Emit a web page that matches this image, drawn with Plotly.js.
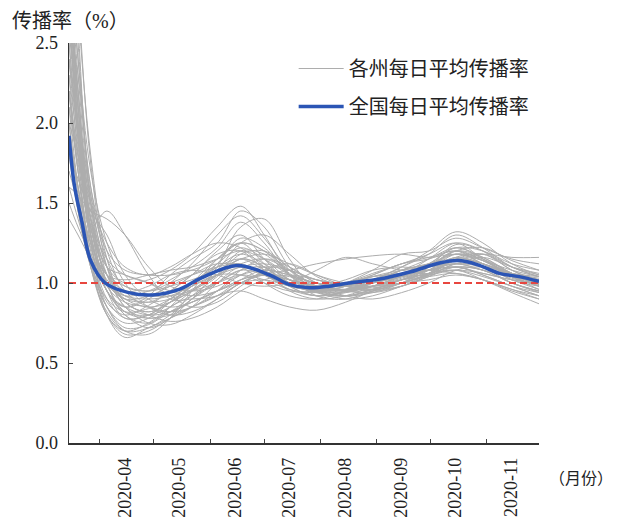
<!DOCTYPE html>
<html>
<head>
<meta charset="utf-8">
<script src="https://cdn.plot.ly/plotly-3.0.1.min.js"></script>
<style>
  html, body { margin: 0; padding: 0; background: #fff; }
  #chart { width: 617px; height: 520px; }
</style>
</head>
<body>
<div id="chart"></div>
<script>
// Sample dates shared by every state series
const stateDates = ['2020-03-15','2020-03-20','2020-03-27','2020-04-05','2020-04-15','2020-04-28',
  '2020-05-10','2020-05-22','2020-06-05','2020-06-18','2020-07-01','2020-07-15','2020-07-30',
  '2020-08-15','2020-08-30','2020-09-15','2020-09-30','2020-10-15','2020-10-30','2020-11-15','2020-11-30'];

// Daily average transmission rate per state
const stateSeries = [
  [3.2,2.1,1.35,1.05,0.92,0.88,0.95,1.05,1.20,1.30,1.15,1.00,0.95,0.98,1.02,1.05,1.10,1.18,1.12,1.02,0.98],
  [2.8,1.9,1.25,0.90,0.78,0.80,0.88,0.95,1.05,1.20,1.18,1.05,0.96,0.94,1.00,1.08,1.12,1.22,1.15,1.05,1.00],
  [2.6,2.3,1.60,1.20,0.95,0.85,0.82,0.90,1.10,1.35,1.40,1.15,0.95,0.92,0.96,1.02,1.06,1.10,1.08,1.00,0.95],
  [3.5,2.6,1.50,1.00,0.80,0.75,0.85,1.00,1.15,1.25,1.20,1.08,0.98,0.95,0.98,1.05,1.15,1.25,1.20,1.08,1.02],
  [2.0,1.6,1.25,1.05,0.98,0.95,1.00,1.05,1.10,1.12,1.05,0.98,0.96,1.00,1.04,1.06,1.08,1.12,1.08,1.04,1.00],
  [2.4,1.8,1.15,0.80,0.70,0.75,0.85,0.92,1.00,1.08,1.10,1.02,0.95,0.92,0.95,1.00,1.05,1.15,1.18,1.10,1.05],
  [1.8,1.65,1.45,1.30,1.05,0.90,0.85,0.88,0.95,1.05,1.10,1.08,1.02,0.98,0.96,1.00,1.10,1.20,1.14,1.04,0.98],
  [2.9,2.0,1.30,0.95,0.85,0.92,1.05,1.15,1.25,1.45,1.35,1.10,0.95,0.90,0.92,0.98,1.04,1.12,1.10,1.02,0.96],
  [3.0,2.4,1.70,1.25,1.00,0.85,0.80,0.82,0.90,1.00,1.05,1.04,1.00,0.98,1.02,1.10,1.18,1.30,1.22,1.10,1.04],
  [1.6,1.40,1.15,0.95,0.80,0.72,0.78,0.90,1.02,1.15,1.10,0.98,0.92,0.95,1.00,1.08,1.12,1.15,1.10,1.05,1.02],
  [2.2,1.7,1.20,0.85,0.70,0.68,0.78,0.95,1.15,1.25,1.12,0.98,0.92,0.95,0.98,1.02,1.06,1.08,1.04,0.98,0.94],
  [3.3,2.5,1.55,1.10,0.95,0.98,1.05,1.08,1.05,1.00,0.98,1.00,1.08,1.16,1.12,1.08,1.06,1.12,1.16,1.10,1.06],
  [2.5,1.95,1.40,1.10,1.00,1.02,1.08,1.18,1.35,1.48,1.30,1.05,0.92,0.90,0.95,1.00,1.05,1.14,1.12,1.05,1.00],
  [1.5,1.35,1.18,1.02,0.90,0.85,0.88,0.95,1.05,1.18,1.20,1.10,1.00,0.95,0.94,0.98,1.06,1.16,1.10,1.00,0.95],
  [2.7,2.2,1.30,0.80,0.66,0.72,0.78,0.85,1.00,1.10,1.05,0.96,0.92,0.94,0.98,1.04,1.10,1.20,1.16,1.06,0.98],
  [2.2,1.7,1.35,1.45,1.30,1.05,0.90,0.90,0.92,1.00,1.05,1.02,0.98,0.96,1.00,1.06,1.12,1.18,1.14,1.05,1.00],
  [1.9,1.45,1.10,0.85,0.72,0.74,0.82,0.88,0.95,1.00,1.02,0.98,0.95,0.96,1.00,1.04,1.08,1.10,1.05,0.98,0.92],
  [2.3,1.85,1.30,1.00,0.92,0.95,1.02,1.10,1.22,1.38,1.25,1.05,0.95,0.98,1.05,1.12,1.15,1.20,1.12,1.06,1.03],
  [2.9,2.1,1.40,1.10,1.05,1.00,0.92,0.85,0.88,0.98,1.08,1.12,1.05,0.98,0.95,0.98,1.05,1.16,1.18,1.08,1.00],
  [2.1,1.75,1.30,0.95,0.78,0.80,0.90,1.00,1.10,1.15,1.08,1.00,0.96,1.00,1.06,1.12,1.18,1.25,1.15,1.04,0.96],
  [3.4,2.7,1.80,1.15,0.88,0.82,0.88,0.98,1.12,1.28,1.22,1.06,0.97,0.95,0.98,1.03,1.08,1.14,1.10,1.03,0.99],
  [1.4,1.30,1.15,1.00,0.92,0.90,0.92,0.98,1.05,1.10,1.12,1.08,1.02,1.00,1.02,1.05,1.08,1.10,1.06,1.02,1.00],
  [2.6,1.95,1.25,0.88,0.80,0.86,0.95,1.05,1.18,1.20,1.08,0.95,0.90,0.92,0.98,1.04,1.12,1.22,1.20,1.12,1.08],
  [2.0,1.80,1.50,1.25,1.10,1.05,1.10,1.18,1.25,1.22,1.10,1.00,0.96,0.96,1.00,1.04,1.05,1.08,1.06,1.02,1.00],
  [3.0,2.2,1.45,1.00,0.82,0.78,0.80,0.85,0.92,1.02,1.08,1.05,1.00,0.98,0.97,1.00,1.06,1.15,1.12,1.04,0.98],
  [2.4,2.0,1.50,1.10,0.88,0.82,0.88,0.98,1.05,1.05,1.00,0.95,0.95,1.00,1.08,1.18,1.20,1.28,1.22,1.15,1.12],
  [1.7,1.50,1.22,0.95,0.82,0.80,0.85,0.95,1.08,1.25,1.30,1.18,1.04,0.98,0.98,1.02,1.04,1.06,1.02,0.96,0.90],
  [2.8,2.1,1.40,1.05,0.95,0.92,0.92,0.95,1.00,1.05,1.02,0.96,0.94,0.98,1.04,1.08,1.10,1.12,1.08,1.00,0.94],
  [2.5,1.90,1.35,1.00,0.90,0.88,0.90,0.96,1.05,1.12,1.15,1.08,0.98,0.92,0.90,0.94,1.00,1.08,1.10,1.06,1.04],
  [3.6,2.8,1.75,1.10,0.85,0.78,0.82,0.92,1.04,1.15,1.10,1.00,0.94,0.96,1.02,1.10,1.20,1.32,1.25,1.12,1.05],
  [1.9,1.60,1.25,1.05,1.02,1.05,1.08,1.10,1.15,1.20,1.15,1.05,0.98,0.96,0.98,1.02,1.06,1.10,1.05,0.98,0.92],
  [2.2,1.80,1.35,1.05,0.88,0.80,0.76,0.78,0.85,0.95,1.02,1.05,1.02,0.98,0.96,0.98,1.04,1.10,1.08,1.00,0.95],
  [2.7,2.0,1.30,0.95,0.85,0.90,1.00,1.12,1.30,1.42,1.28,1.08,0.96,0.92,0.94,1.00,1.08,1.18,1.15,1.06,1.02],
  [1.6,1.55,1.45,1.40,1.30,1.10,0.98,0.95,0.98,1.05,1.08,1.05,1.00,0.98,1.00,1.04,1.08,1.12,1.10,1.04,1.00],
  [2.3,1.70,1.15,0.85,0.75,0.78,0.88,0.98,1.10,1.18,1.12,1.02,0.98,1.02,1.08,1.10,1.08,1.06,1.02,0.95,0.90],
  [3.2,2.4,1.60,1.15,0.98,0.95,0.98,1.02,1.08,1.15,1.18,1.12,1.05,1.00,0.98,1.00,1.06,1.14,1.12,1.06,1.02],
  [2.0,1.55,1.10,0.82,0.70,0.72,0.80,0.90,1.00,1.08,1.05,0.98,0.96,1.00,1.04,1.06,1.10,1.20,1.22,1.14,1.08],
  [2.6,2.1,1.55,1.20,1.08,1.05,1.05,1.08,1.15,1.25,1.20,1.05,0.94,0.92,0.96,1.02,1.08,1.16,1.12,1.04,0.98],
  [2.9,2.2,1.40,0.98,0.88,0.85,0.82,0.85,0.95,1.08,1.15,1.10,1.00,0.95,0.96,1.02,1.10,1.24,1.20,1.10,1.04],
  [1.8,1.45,1.12,0.90,0.82,0.84,0.90,1.00,1.12,1.22,1.15,1.02,0.96,0.96,0.98,1.00,1.02,1.05,1.02,0.96,0.92],
  [2.1,1.6,1.10,0.80,0.68,0.70,0.78,0.85,0.92,0.95,0.90,0.85,0.83,0.88,0.95,1.00,1.05,1.08,1.02,0.94,0.87],
  [2.4,1.9,1.30,0.95,0.85,0.80,0.82,0.88,0.95,1.02,1.06,1.08,1.12,1.15,1.17,1.18,1.16,1.18,1.14,1.08,1.04],
  [2.7,2.0,1.35,1.00,0.90,0.92,0.98,1.05,1.12,1.10,1.00,0.92,0.90,0.95,1.02,1.08,1.15,1.22,1.16,1.06,1.00],
  [3.0,2.3,1.50,1.05,0.85,0.75,0.74,0.80,0.90,1.00,1.06,1.02,0.98,1.00,1.05,1.12,1.16,1.20,1.14,1.06,1.02],
  [2.2,1.8,1.40,1.15,1.05,1.00,0.95,0.92,0.95,1.02,1.05,1.02,0.98,0.98,1.02,1.06,1.10,1.14,1.18,1.16,1.16]
];

// National daily average transmission rate
const nationalDates = ['2020-03-15','2020-03-18','2020-03-22','2020-03-27','2020-04-04','2020-04-17',
  '2020-04-30','2020-05-15','2020-05-27','2020-06-16','2020-07-04','2020-07-15','2020-07-26',
  '2020-08-06','2020-08-17','2020-09-03','2020-09-20','2020-10-06','2020-10-17','2020-10-28',
  '2020-11-08','2020-11-19','2020-11-30'];
const nationalValues = [1.92,1.61,1.39,1.14,1.00,0.94,0.925,0.96,1.03,1.11,1.05,0.99,0.97,
  0.98,1.00,1.025,1.07,1.125,1.14,1.11,1.06,1.04,1.01];

const thresholdValue = 1.0;
const dateRange = ['2020-03-15', '2020-11-30'];
const monthTicks = ['2020-04-01','2020-05-01','2020-06-01','2020-07-01','2020-08-01','2020-09-01','2020-10-01','2020-11-01'];
const monthLabels = ['2020-04','2020-05','2020-06','2020-07','2020-08','2020-09','2020-10','2020-11'];
const yTicks = [0, 0.5, 1.0, 1.5, 2.0, 2.5];

const stateName = '各州每日平均传播率';
const nationalName = '全国每日平均传播率';

const serif = "'Liberation Serif', 'Times New Roman', serif";
const cjk = "'Liberation Serif', 'Noto Sans CJK SC', sans-serif";

const traces = stateSeries.map((vals, i) => ({
  type: 'scatter', mode: 'lines',
  x: stateDates, y: vals,
  name: stateName, legendgroup: 'state',
  showlegend: i === 0,
  line: { color: '#adadad', width: 1, shape: 'spline', smoothing: 1 },
  hoverinfo: 'skip'
}));

traces.push({
  type: 'scatter', mode: 'lines',
  x: dateRange, y: [thresholdValue, thresholdValue],
  showlegend: false,
  line: { color: '#e8463f', width: 2.2, dash: '7px,4px' },
  hoverinfo: 'skip'
});

traces.push({
  type: 'scatter', mode: 'lines',
  x: nationalDates, y: nationalValues,
  name: nationalName, legendgroup: 'national',
  line: { color: '#2b55b5', width: 3.5, shape: 'spline', smoothing: 1 }
});

const layout = {
  width: 617, height: 520,
  margin: { l: 69, r: 78, t: 43, b: 77 },
  paper_bgcolor: '#ffffff', plot_bgcolor: '#ffffff',
  font: { family: serif, color: '#222', size: 18 },
  title: {
    text: '传播率（%）',
    font: { family: cjk, size: 20, color: '#222' },
    xref: 'container', yref: 'container',
    x: 12 / 617, xanchor: 'left',
    y: 1 - 21 / 520, yanchor: 'middle'
  },
  showlegend: true,
  legend: {
    x: 0.478, xanchor: 'left',
    y: 0.985, yanchor: 'top',
    bgcolor: 'rgba(0,0,0,0)',
    font: { family: cjk, size: 20, color: '#222' },
    itemwidth: 45,
    traceorder: 'grouped',
    tracegroupgap: 9
  },
  xaxis: {
    type: 'date',
    range: dateRange,
    tickvals: monthTicks,
    ticktext: monthLabels,
    tickangle: -90,
    ticks: 'inside', ticklen: 4, tickcolor: '#444',
    ticklabelshift: 25,
    ticklabelstandoff: 6,
    showline: true, linecolor: '#333', linewidth: 1.5,
    showgrid: false, zeroline: false,
    tickfont: { family: serif, size: 18, color: '#222' }
  },
  yaxis: {
    range: [0, 2.5],
    tickvals: yTicks,
    tickformat: '.1f',
    ticks: 'inside', ticklen: 4, tickcolor: '#444',
    ticklabelstandoff: 6,
    showline: true, linecolor: '#333', linewidth: 1.5,
    showgrid: false, zeroline: false,
    tickfont: { family: serif, size: 18, color: '#222' }
  },
  annotations: [{
    text: '（月份）',
    xref: 'paper', yref: 'paper',
    x: 1, xanchor: 'right', xshift: 76,
    y: 0, yanchor: 'middle', yshift: -35,
    showarrow: false,
    font: { family: cjk, size: 16, color: '#222' }
  }]
};

Plotly.newPlot('chart', traces, layout, { displayModeBar: false, staticPlot: true });
</script>
</body>
</html>
